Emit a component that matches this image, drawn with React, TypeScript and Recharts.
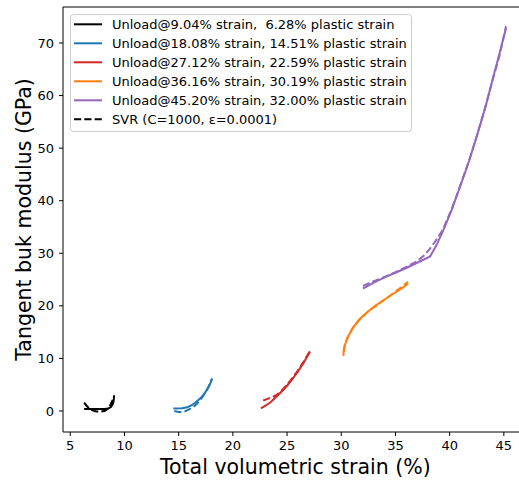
import React from 'react';
import { LineChart, Line, XAxis, YAxis, ReferenceLine } from 'recharts';

const FONT = '"DejaVu Sans", "Liberation Sans", sans-serif';

// ---- data ----
// Unload @ 9.04% strain
const exp9X = [9.04, 9.02, 8.98, 8.9, 8.75, 8.5, 8.2, 7.5, 6.9, 6.28];
const exp9Y = [3.0, 2.3, 1.7, 1.2, 0.75, 0.45, 0.38, 0.38, 0.38, 0.38];
const svr9X = [6.28, 6.5, 6.75, 7.0, 7.4, 7.8, 8.2, 8.5, 8.7, 8.85, 9.04];
const svr9Y = [1.6, 1.0, 0.5, 0.15, -0.1, -0.15, 0.05, 0.5, 1.1, 1.8, 2.7];

// Unload @ 18.08% strain
const exp18X = [18.08, 17.95, 17.8, 17.6, 17.3, 17.0, 16.6, 16.2, 15.8, 15.3, 14.51];
const exp18Y = [6.0, 5.4, 4.7, 4.0, 3.1, 2.4, 1.7, 1.1, 0.7, 0.5, 0.45];
const svr18X = [14.6, 15.0, 15.5, 16.0, 16.5, 17.0, 17.4, 17.8, 18.08];
const svr18Y = [0.0, -0.2, -0.15, 0.35, 1.0, 2.1, 3.3, 4.8, 6.2];

// Unload @ 27.12% strain
const exp27X = [27.12, 26.5, 26.0, 25.5, 25.0, 24.5, 24.0, 23.5, 23.0, 22.59];
const exp27Y = [11.3, 9.1, 7.5, 6.1, 4.8, 3.7, 2.7, 1.7, 1.0, 0.5];
const svr27X = [22.8, 23.2, 23.6, 24.0, 24.5, 25.0, 25.5, 26.0, 26.5, 27.12];
const svr27Y = [2.0, 2.3, 2.6, 3.0, 3.9, 5.0, 6.3, 7.7, 9.3, 11.4];

// Unload @ 36.16% strain
const exp36X = [36.16, 35.5, 34.8, 34.0, 33.2, 32.4, 31.7, 31.1, 30.6, 30.35, 30.25, 30.19];
const exp36Y = [24.2, 23.2, 22.3, 21.2, 20.1, 18.8, 17.5, 15.9, 14.0, 12.6, 11.6, 10.5];
const svr36X = [30.2, 30.35, 30.6, 31.1, 31.7, 32.4, 33.2, 34.0, 34.8, 35.5, 36.16];
const svr36Y = [11.3, 12.8, 14.1, 15.9, 17.4, 18.8, 20.0, 21.2, 22.4, 23.5, 24.6];

// Unload @ 45.20% strain
const exp45X = [45.2, 44.6, 44.0, 43.3, 42.5, 41.8, 41.0, 40.2, 39.4, 38.8, 38.2, 37.0, 36.0, 35.0, 34.0, 33.0, 32.0];
const exp45Y = [72.8, 68.0, 63.4, 57.8, 52.2, 47.6, 42.9, 38.3, 34.3, 31.6, 29.4, 28.2, 27.2, 26.3, 25.4, 24.4, 23.3];
const svr45X = [32.0, 33.0, 34.0, 35.0, 36.0, 37.0, 37.7, 38.3, 38.9, 39.4, 40.2, 41.0, 41.8, 42.5, 43.3, 44.0, 44.6, 45.2];
const svr45Y = [23.8, 24.7, 25.5, 26.4, 27.4, 28.5, 29.7, 31.2, 32.9, 34.6, 38.5, 43.0, 47.7, 52.3, 57.9, 63.2, 67.6, 73.2];

const xTicks = [5, 10, 15, 20, 25, 30, 35, 40, 45];
const yTicks = [0, 10, 20, 30, 40, 50, 60, 70];
const xDomain = [4.33, 47.2];
const yDomain = [-4.0, 76.85];

const seriesColors = ['#000000', '#1f77b4', '#d62728', '#ff7f0e', '#9467bd'];
const legendLabels = [
  'Unload@9.04% strain,  6.28% plastic strain',
  'Unload@18.08% strain, 14.51% plastic strain',
  'Unload@27.12% strain, 22.59% plastic strain',
  'Unload@36.16% strain, 30.19% plastic strain',
  'Unload@45.20% strain, 32.00% plastic strain',
];
const svrLabel = 'SVR (C=1000, \u03b5=0.0001)';
const xLabel = 'Total volumetric strain (%)';
const yLabel = 'Tangent buk modulus (GPa)';

const toPoints = (xs: number[], ys: number[]) => xs.map((x, i) => ({ x, y: ys[i] }));

const series = [
  { exp: toPoints(exp9X, exp9Y), svr: toPoints(svr9X, svr9Y) },
  { exp: toPoints(exp18X, exp18Y), svr: toPoints(svr18X, svr18Y) },
  { exp: toPoints(exp27X, exp27Y), svr: toPoints(svr27X, svr27Y) },
  { exp: toPoints(exp36X, exp36Y), svr: toPoints(svr36X, svr36Y) },
  { exp: toPoints(exp45X, exp45Y), svr: toPoints(svr45X, svr45Y) },
];

const DASH = '7.2 3.1';
const LW = 2;

const XLabel = (props: any) => {
  const vb = props.viewBox || {};
  return (
    <text x={vb.x + vb.width / 2} y={vb.y + 42} textAnchor="middle" fontSize={20.5} fontFamily={FONT} fill="#000">
      {xLabel}
    </text>
  );
};

const YLabel = (props: any) => {
  const vb = props.viewBox || {};
  const cx = 31;
  const cy = vb.y + vb.height / 2;
  return (
    <text x={cx} y={cy} textAnchor="middle" fontSize={20.5} fontFamily={FONT} fill="#000" transform={`rotate(-90, ${cx}, ${cy})`}>
      {yLabel}
    </text>
  );
};

const LegendBox = () => {
  const rows = [...legendLabels, svrLabel];
  return (
    <svg width={519} height={482} style={{ position: 'absolute', left: 0, top: 0, pointerEvents: 'none' }}>
      <rect x={70.5} y={14.5} width={341} height={117} rx={3} ry={3} fill="#ffffff" fillOpacity={0.8} stroke="#cccccc" strokeWidth={1} />
      {rows.map((label, i) => {
        const y = 24.3 + i * 19;
        const isSvr = i === rows.length - 1;
        return (
          <g key={i}>
            <line x1={74} x2={102} y1={y} y2={y} stroke={isSvr ? '#000000' : seriesColors[i]} strokeWidth={LW} strokeDasharray={isSvr ? DASH : undefined} />
            <text x={112} y={y + 4.8} fontSize={13} fontFamily={FONT} fill="#000" style={{ whiteSpace: 'pre' }}>
              {label}
            </text>
          </g>
        );
      })}
    </svg>
  );
};

export default function App() {
  return (
    <div style={{ position: 'absolute', left: 0, top: 0, width: 519, height: 482, overflow: 'hidden', background: '#fff' }}>
      <LineChart width={541} height={482} margin={{ top: 7, right: 13.3, bottom: 0, left: 0 }}>
        <XAxis
          type="number"
          dataKey="x"
          domain={xDomain}
          ticks={xTicks}
          allowDataOverflow
          height={50}
          stroke="#000"
          tick={{ fill: '#000', fontSize: 13, fontFamily: FONT }}
          tickSize={4}
          tickMargin={5}
          tickLine={{ stroke: '#000' }}
          axisLine={{ stroke: '#000', strokeWidth: 1 }}
          label={XLabel}
        />
        <YAxis
          type="number"
          dataKey="y"
          domain={yDomain}
          ticks={yTicks}
          allowDataOverflow
          width={63}
          stroke="#000"
          tick={{ fill: '#000', fontSize: 13, fontFamily: FONT }}
          tickSize={4}
          tickMargin={5}
          tickLine={{ stroke: '#000' }}
          axisLine={{ stroke: '#000', strokeWidth: 1 }}
          label={YLabel}
        />
        <ReferenceLine y={yDomain[1]} stroke="#000" strokeWidth={1} />
        <ReferenceLine x={xDomain[1]} stroke="#000" strokeWidth={1} />
        {series.map((s, i) => [
          <Line
            key={`exp${i}`}
            data={s.exp}
            dataKey="y"
            type="linear"
            stroke={seriesColors[i]}
            strokeWidth={LW}
            dot={false}
            activeDot={false}
            isAnimationActive={false}
          />,
          <Line
            key={`svr${i}`}
            data={s.svr}
            dataKey="y"
            type="linear"
            stroke={seriesColors[i]}
            strokeWidth={LW}
            strokeDasharray={DASH}
            dot={false}
            activeDot={false}
            isAnimationActive={false}
          />,
        ])}
      </LineChart>
      <LegendBox />
    </div>
  );
}
